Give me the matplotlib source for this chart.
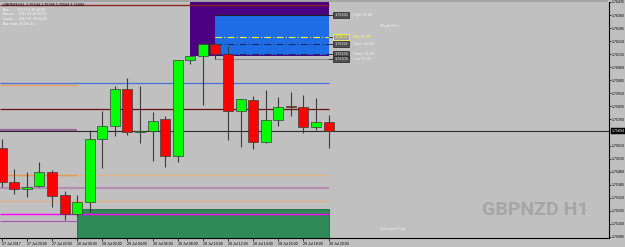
import matplotlib
matplotlib.use("Agg")
import matplotlib.pyplot as plt
from matplotlib.patches import Rectangle
import matplotlib.transforms as mtransforms

plt.rcParams["font.family"] = ["Liberation Sans", "DejaVu Sans"]

# ---------------- data ----------------
bar_times = ["27 Jul 18:00", "27 Jul 19:00", "27 Jul 20:00", "27 Jul 21:00", "27 Jul 22:00",
             "27 Jul 23:00", "28 Jul 00:00", "28 Jul 01:00", "28 Jul 02:00", "28 Jul 03:00",
             "28 Jul 04:00", "28 Jul 05:00", "28 Jul 06:00", "28 Jul 07:00", "28 Jul 08:00",
             "28 Jul 09:00", "28 Jul 10:00", "28 Jul 11:00", "28 Jul 12:00", "28 Jul 13:00",
             "28 Jul 14:00", "28 Jul 15:00", "28 Jul 16:00", "28 Jul 17:00", "28 Jul 18:00",
             "28 Jul 19:00", "28 Jul 20:00"]
opens = [1.75594, 1.75403, 1.75361, 1.75378, 1.75460, 1.75325, 1.75217, 1.75288, 1.75646, 1.75722,
         1.75933, 1.75688, 1.75696, 1.75763, 1.75550, 1.76100, 1.76122, 1.76192, 1.76134, 1.75809,
         1.75872, 1.75632, 1.75757, 1.75837, 1.75830, 1.75715, 1.75744]
highs = [1.75646, 1.75476, 1.75457, 1.75516, 1.75467, 1.75351, 1.75326, 1.75700, 1.75810, 1.75952,
         1.75996, 1.75954, 1.75801, 1.75778, 1.76100, 1.76123, 1.76207, 1.76199, 1.76182, 1.75876,
         1.75895, 1.75929, 1.75887, 1.75920, 1.75900, 1.75882, 1.75786]
lows = [1.75374, 1.75330, 1.75313, 1.75372, 1.75256, 1.75183, 1.75206, 1.75230, 1.75483, 1.75665,
        1.75671, 1.75627, 1.75523, 1.75489, 1.75517, 1.76080, 1.75843, 1.76109, 1.75642, 1.75604,
        1.75589, 1.75623, 1.75722, 1.75780, 1.75684, 1.75700, 1.75594]
closes = [1.75403, 1.75359, 1.75372, 1.75460, 1.75321, 1.75217, 1.75284, 1.75646, 1.75724, 1.75933,
          1.75688, 1.75696, 1.75753, 1.75550, 1.76100, 1.76123, 1.76196, 1.76136, 1.75809, 1.75876,
          1.75632, 1.75757, 1.75833, 1.75830, 1.75718, 1.75744, 1.75694]

tick_bars = [0, 2, 4, 6, 8, 10, 12, 14, 16, 18, 20, 22, 24, 26]
tick_labels = ["27 Jul 2017", "27 Jul 20:00", "27 Jul 22:00", "28 Jul 00:00", "28 Jul 02:00",
               "28 Jul 04:00", "28 Jul 06:00", "28 Jul 08:00", "28 Jul 10:00", "28 Jul 12:00",
               "28 Jul 14:00", "28 Jul 16:00", "28 Jul 18:00", "28 Jul 20:00"]

price_ticks = [1.76435, 1.76360, 1.76285, 1.76210, 1.76135, 1.76060, 1.75985, 1.75910, 1.75835,
               1.75760, 1.75610, 1.75535, 1.75460, 1.75385, 1.75310, 1.75235, 1.75160, 1.75085]

long_levels = [1.76417, 1.75968, 1.75818, 1.75441, 1.75368, 1.75293, 1.75215]
short_levels = [1.75958, 1.75700, 1.75441, 1.75177]

res_zone = [1.76125, 1.76450]
blue_zone = [1.76130, 1.76360]
sup_zone = [1.75060, 1.75246]

hour_names = ["High 11:00", "Mid 11:00", "Open 11:00", "Close 11:00", "Low 11:00"]
hour_prices = [1.76360, 1.76232, 1.76192, 1.76134, 1.76106]

symbol = "GBPNZD,H1"
info_lines = ["Bar........ 2017.07.28 20:00", "Server.... 2017.07.28 20:59",
              "Local...... 2017.07.28 22:44", "Bar ends: 0h 0m 1s"]
res_label = "Weak Res"
sup_label = "Untested Sup"
watermark = "GBPNZD H1"

# ---------------- figure ----------------
BG = "#c0c0c0"
W, H = 625, 247
fig = plt.figure(figsize=(W / 100, H / 100), dpi=100, facecolor=BG)
ax = fig.add_axes([0, 9 / H, 609 / W, 236 / H], facecolor=BG)
fig.patches.append(Rectangle((0, (H - 2) / H), 608 / W, 2 / H, transform=fig.transFigure,
                             facecolor="#a4a4a4", edgecolor="none"))

x_left, x_right = -0.135, 48.31
ax.set_xlim(x_left, x_right)
ax.set_ylim(1.75079, 1.76435)

n = len(opens)
last = n - 1

# zones
ax.add_patch(Rectangle((15, res_zone[0]), last - 15, res_zone[1] - res_zone[0],
                       facecolor="#4b0082", edgecolor="none", zorder=1))
ax.add_patch(Rectangle((17, blue_zone[0]), last - 17, blue_zone[1] - blue_zone[0],
                       facecolor="#1f6de6", edgecolor="none", zorder=1.1))
ax.add_patch(Rectangle((6, sup_zone[0]), last - 6, sup_zone[1] - sup_zone[0],
                       facecolor="#2e8b57", edgecolor="#1f6a40", linewidth=0.6, zorder=1))

# long horizontal levels
long_colors = ["#8b2323", "#4a6fd8", "#6b1010", "#e0b48a", "#b48cb4", "#e0b48a", "#ff00ff"]
long_widths = [1.0, 0.9, 0.9, 1.0, 1.6, 1.0, 1.0]
for p, c, w in zip(long_levels, long_colors, long_widths):
    ax.plot([x_left, last], [p, p], color=c, lw=w, zorder=2, solid_capstyle="butt")
short_colors = ["#e8a060", "#9a6a9a", "#e89850", "#b050b0"]
short_widths = [1.0, 1.6, 1.0, 0.8]
for p, c, w in zip(short_levels, short_colors, short_widths):
    ax.plot([x_left, 6], [p, p], color=c, lw=w, zorder=2.1, solid_capstyle="butt")

# current price line
ax.axhline(closes[-1], color="#2a2a2a", lw=0.8, zorder=2.2)

# hour levels with labels
hl_colors = ["#202020", "#ffff30", "#1a2a60", "#1a2a60", "#8a8a8a"]
hl_styles = ["-", (0, (6, 2, 1, 2)), (0, (6, 2, 1, 2)), (0, (6, 2, 1, 2)), "-"]
x_box = 26.45
for name, p, c, ls in zip(hour_names, hour_prices, hl_colors, hl_styles):
    ax.plot([17, last], [p, p], color=c, lw=0.8, ls=ls, zorder=2.5)
    ax.plot([last, x_box], [p, p], color="#202020", lw=0.6, zorder=2.5)
    is_mid = name.startswith("Mid")
    ax.text(x_box, p, "%.5f" % p, fontsize=2.7, color="#ffff40" if is_mid else "#e8e8e8",
            va="center", ha="left", zorder=4,
            bbox=dict(boxstyle="square,pad=0.3", facecolor="#a0a0a0" if is_mid else "#505050",
                      edgecolor="#ffff40" if is_mid else "#202020", linewidth=0.5))
    ax.text(27.95, p, name, fontsize=2.9, color="#ffff40" if is_mid else "#f0f0f0",
            va="center", ha="left", zorder=4)

ax.text(30.1, 1.76297, res_label, fontsize=3.0, color="#f0f0f0", va="center", ha="left")
ax.text(30.1, 1.75129, sup_label, fontsize=3.0, color="#f0f0f0", va="center", ha="left")

# candles
idx = list(range(n))
bottoms = [min(o, c) for o, c in zip(opens, closes)]
heights = [max(abs(c - o), 0.00003) for o, c in zip(opens, closes)]
colors = ["#00ff00" if c >= o else "#ff0000" for o, c in zip(opens, closes)]
ax.vlines(idx, lows, highs, color="#3c3c3c", lw=0.8, zorder=5)
ax.bar(idx, heights, bottom=bottoms, width=0.8, color=colors, edgecolor="#3c3c3c",
       linewidth=0.5, zorder=6)

# axes styling
for s in ["top", "left"]:
    ax.spines[s].set_visible(False)
for s in ["right", "bottom"]:
    ax.spines[s].set_color("#000000")
    ax.spines[s].set_linewidth(0.8)
ax.yaxis.tick_right()
ax.set_yticks(price_ticks)
ax.set_yticklabels(["%.5f" % p for p in price_ticks])
ax.set_xticks(tick_bars)
ax.set_xticklabels(tick_labels)
ax.tick_params(axis="y", labelsize=2.6, length=1.5, width=0.5, pad=0.8, colors="#000000")
ax.tick_params(axis="x", labelsize=2.6, length=2, width=0.5, pad=0.8, colors="#000000")
for lbl in ax.get_xticklabels():
    lbl.set_horizontalalignment("left")

# current price label
tr = mtransforms.blended_transform_factory(ax.transAxes, ax.transData)
ax.text(1.004, closes[-1], "%.5f" % closes[-1], transform=tr, fontsize=2.6, color="#ffffff",
        va="center", ha="left", clip_on=False, zorder=10,
        bbox=dict(boxstyle="square,pad=0.25", facecolor="#000000", edgecolor="#000000", lw=0.3))

# info text top-left
header = "%s  %.5f %.5f %.5f %.5f" % (symbol, opens[-1], highs[-1], lows[-1], closes[-1])
fig.text(3 / W, 1 - 4.5 / H, header, fontsize=2.7, color="#000000", va="center", ha="left")
for k, line in enumerate(info_lines):
    fig.text(3 / W, 1 - (9.7 + 4.7 * k) / H, line, fontsize=2.6, color="#ffffff",
             va="center", ha="left")

# watermark
fig.text(588 / W, 1 - 210 / H, watermark, fontsize=14, fontweight="bold", color="#a6a6a6",
         family=["Roboto", "Liberation Sans", "DejaVu Sans"],
         va="center", ha="right")

fig.savefig("out.png", dpi=100, facecolor=BG)
